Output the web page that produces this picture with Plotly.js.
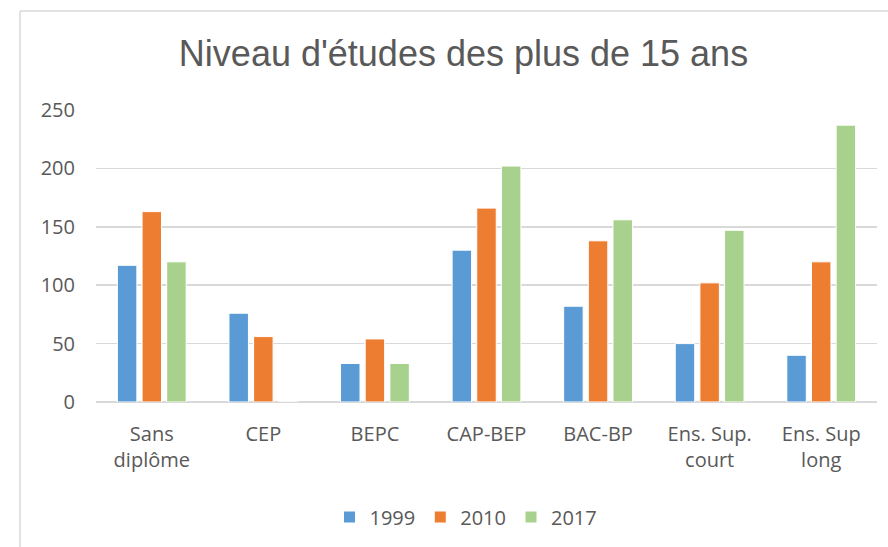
<!DOCTYPE html>
<html>
<head>
<meta charset="utf-8">
<script src="https://cdn.plot.ly/plotly-3.0.1.min.js"></script>
<style>
html,body{margin:0;padding:0;background:#fff;}
#chart{width:888px;height:547px;}
</style>
</head>
<body>
<div id="chart"></div>
<script>
const categories = ["Sans<br>diplôme", "CEP", "BEPC", "CAP-BEP", "BAC-BP", "Ens. Sup.<br>court", "Ens. Sup<br>long"];
const seriesNames = ["1999", "2010", "2017"];
const values1999 = [117, 76, 33, 130, 82, 50, 40];
const values2010 = [163, 56, 54, 166, 138, 102, 120];
const values2017 = [120, 0, 33, 202, 156, 147, 237];
const colors = ["#5B9BD5", "#ED7D31", "#A9D18E"];
const yTicks = [0, 50, 100, 150, 200, 250];

const allValues = [values1999, values2010, values2017];
const traces = allValues.map((v, i) => ({
  type: "bar",
  name: seriesNames[i],
  x: categories,
  y: v,
  marker: {color: colors[i], line: {color: "#ffffff", width: 1}},
  hoverinfo: "x+y+name"
}));

const W = 888, H = 547;
const m = {l: 96, r: 11, t: 110, b: 145};
const pw = W - m.l - m.r, ph = H - m.t - m.b;
const px = x => (x - m.l) / pw;
const py = y => (H - m.b - y) / ph;

const layout = {
  width: W, height: H,
  margin: m,
  paper_bgcolor: "#ffffff",
  plot_bgcolor: "#ffffff",
  font: {family: "Open Sans, sans-serif", color: "#595959", size: 20},
  title: {
    text: "Niveau d'études des plus de 15 ans",
    font: {family: "Liberation Sans, Arial, sans-serif", size: 36, color: "#595959"},
    xref: "container", x: 463.5 / W, xanchor: "center",
    yref: "container", y: 1 - 53 / H, yanchor: "middle"
  },
  barmode: "group",
  bargap: 0.337,
  bargroupgap: 0.21,
  xaxis: {
    type: "category",
    showgrid: false,
    showline: false,
    ticks: "",
    ticklabelstandoff: 18,
    tickfont: {size: 20, color: "#595959"}
  },
  yaxis: {
    range: [0, 250],
    tickvals: yTicks,
    ticktext: yTicks.map(String),
    showgrid: true,
    gridcolor: "#D9D9D9",
    gridwidth: 1.5,
    zeroline: true,
    zerolinecolor: "#D9D9D9",
    zerolinewidth: 1.5,
    showline: false,
    ticks: "",
    ticklabelstandoff: 20,
    tickfont: {size: 20, color: "#595959"},
    fixedrange: true
  },
  showlegend: true,
  legend: {
    orientation: "h",
    xref: "paper", x: px(466), xanchor: "center",
    yref: "paper", y: py(517), yanchor: "middle",
    font: {size: 20, color: "#595959"},
    itemwidth: 30,
    traceorder: "normal"
  },
  shapes: [
    {type: "line", xref: "paper", yref: "paper", x0: px(20), x1: px(20), y0: py(H + 5), y1: py(11), line: {color: "#D9D9D9", width: 1.5}},
    {type: "line", xref: "paper", yref: "paper", x0: px(20), x1: px(W + 5), y0: py(11), y1: py(11), line: {color: "#D9D9D9", width: 1.5}}
  ]
};

Plotly.newPlot("chart", traces, layout, {displayModeBar: false, staticPlot: true});
</script>
</body>
</html>
